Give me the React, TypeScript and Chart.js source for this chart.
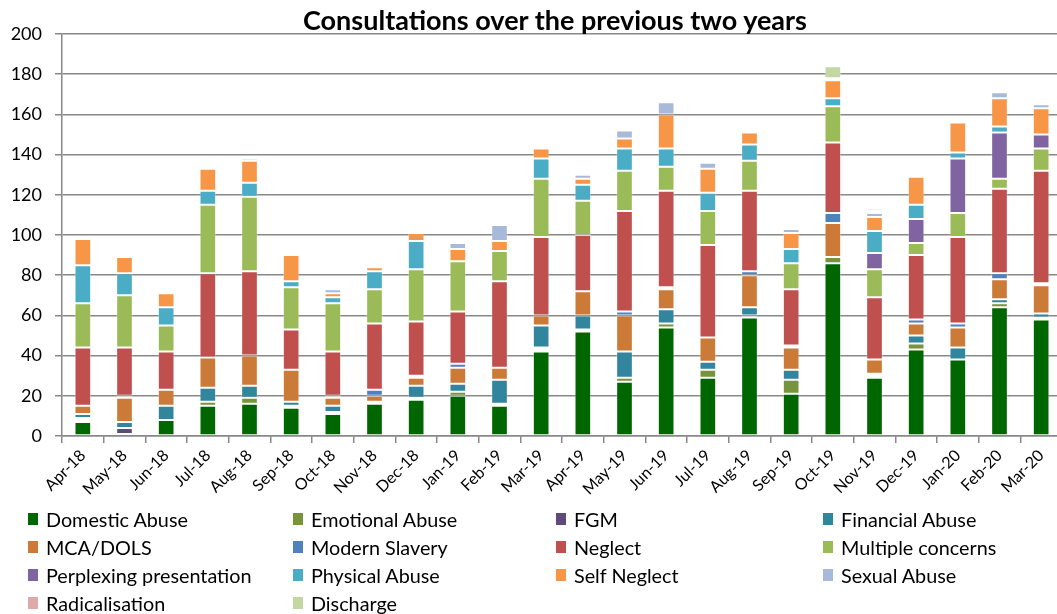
import React, { useEffect, useRef } from "react";
import { Chart, registerables } from "chart.js";

Chart.register(...registerables);

const months = ["Apr-18","May-18","Jun-18","Jul-18","Aug-18","Sep-18","Oct-18","Nov-18","Dec-18","Jan-19","Feb-19","Mar-19","Apr-19","May-19","Jun-19","Jul-19","Aug-19","Sep-19","Oct-19","Nov-19","Dec-19","Jan-20","Feb-20","Mar-20"];

const domesticAbuse =   [7,1,8,15,16,14,11,16,18,20,15,42,52,27,54,29,59,21,86,29,43,38,64,58];
const emotionalAbuse =  [1,0,0,2,3,1,1,0,1,2,1,1,1,2,2,4,1,7,3,1,3,0,2,0];
const fgm =             [1,3,0,0,0,0,0,0,0,0,0,1,0,0,0,0,0,0,0,0,0,0,0,1];
const financialAbuse =  [2,3,7,7,6,2,3,1,6,4,12,11,7,13,7,4,4,5,0,1,4,6,2,2];
const mcaDols =         [4,12,8,15,15,16,4,3,4,8,6,5,12,18,10,12,16,11,17,7,6,10,10,14];
const modernSlavery =   [0,1,0,0,0,0,1,3,1,2,0,0,0,2,1,0,2,1,5,0,2,2,3,1];
const neglect =         [29,24,19,42,42,20,22,33,27,26,43,39,28,50,48,46,40,28,35,31,32,43,42,56];
const multipleConcerns =[22,26,13,34,37,21,24,17,26,25,15,29,17,20,12,17,15,13,18,14,6,12,5,11];
const perplexing =      [0,0,0,0,0,0,0,0,0,0,0,0,0,0,0,0,0,0,0,8,12,27,23,7];
const physicalAbuse =   [19,11,9,7,7,3,3,9,14,0,0,10,8,11,9,9,8,7,4,11,7,3,3,0];
const selfNeglect =     [13,8,7,11,11,13,2,2,4,6,5,5,3,5,17,12,6,8,9,7,14,15,14,13];
const sexualAbuse =     [1,1,1,0,1,0,2,0,1,3,8,0,2,4,6,3,1,2,0,2,0,0,3,2];
const radicalisation =  [0,0,0,1,1,0,0,0,0,0,0,0,0,0,0,1,0,0,1,1,1,0,0,0];
const discharge =       [0,0,0,0,0,0,0,0,0,0,0,0,0,0,0,0,0,0,6,1,0,0,1,0];

const yTicks = [0,20,40,60,80,100,120,140,160,180,200];

const series = [
  { label: "Domestic Abuse", data: domesticAbuse, color: "#006600" },
  { label: "Emotional Abuse", data: emotionalAbuse, color: "#77933C" },
  { label: "FGM", data: fgm, color: "#604A7B" },
  { label: "Financial Abuse", data: financialAbuse, color: "#31859C" },
  { label: "MCA/DOLS", data: mcaDols, color: "#CB7A37" },
  { label: "Modern Slavery", data: modernSlavery, color: "#4F81BD" },
  { label: "Neglect", data: neglect, color: "#C0504D" },
  { label: "Multiple concerns", data: multipleConcerns, color: "#9BBB59" },
  { label: "Perplexing presentation", data: perplexing, color: "#8064A2" },
  { label: "Physical Abuse", data: physicalAbuse, color: "#4BACC6" },
  { label: "Self Neglect", data: selfNeglect, color: "#F79646" },
  { label: "Sexual Abuse", data: sexualAbuse, color: "#A9B9D9" },
  { label: "Radicalisation", data: radicalisation, color: "#DDA9A9" },
  { label: "Discharge", data: discharge, color: "#C4D7A3" },
];

const legendCols = [28, 293, 556, 823];
const legendRows = [519, 547, 575, 603];

export default function App() {
  const ref = useRef<HTMLCanvasElement | null>(null);

  useEffect(() => {
    document.body.style.margin = "0";
    document.body.style.overflow = "hidden";
    const ctx = ref.current!.getContext("2d")!;
    const chart = new Chart(ctx, {
      type: "bar",
      data: {
        labels: months,
        datasets: series.map((s) => ({
          label: s.label,
          data: s.data.map((v) => (v === 0 ? null : v)),
          backgroundColor: s.color,
          borderColor: "rgba(255,255,255,0.35)",
          borderWidth: 1,
          borderSkipped: false,
          barPercentage: 0.5,
          categoryPercentage: 0.8,
        })),
      },
      options: {
        responsive: false,
        animation: false,
        layout: { padding: { left: 0, right: 0, top: 34, bottom: 0 } },
        plugins: { legend: { display: false }, title: { display: false }, tooltip: { enabled: false } },
        font: { family: "Lato" },
        scales: {
          x: {
            stacked: true,
            grid: { drawOnChartArea: false, drawTicks: true, tickLength: 7, color: "#888", lineWidth: 1.5, offset: true },
            border: { display: true, color: "#888", width: 1.5 },
            ticks: { minRotation: 45, maxRotation: 45, autoSkip: false, color: "#000", padding: 3, font: { family: "Lato", size: 16 } },
            afterFit: (s: any) => { s.height = 178; },
          },
          y: {
            stacked: true,
            min: 0,
            max: 200,
            afterBuildTicks: (s: any) => { s.ticks = yTicks.map((v) => ({ value: v })); },
            grid: { color: "#888", lineWidth: 1.5, tickLength: 7, drawTicks: true },
            border: { display: true, color: "#888", width: 1.5 },
            ticks: { color: "#000", padding: 13, font: { family: "Lato", size: 18 } },
            afterFit: (s: any) => { s.width = 62; },
          },
        },
      } as any,
    });
    return () => chart.destroy();
  }, []);

  return (
    <div style={{ position: "fixed", left: 0, top: 0, width: 1057, height: 614, overflow: "hidden", background: "#fff", fontFamily: "Lato" }}>
      <canvas ref={ref} width={1062} height={614} style={{ position: "absolute", left: 0, top: 0, display: "block" }} />
      <div style={{ position: "absolute", left: 0, width: 1110, top: 5, textAlign: "center", fontWeight: 700, fontSize: 27, lineHeight: "30px", color: "#000" }}>
        Consultations over the previous two years
      </div>
      {series.map((s, i) => {
        const c = i % 4;
        const r = Math.floor(i / 4);
        return (
          <div key={s.label} style={{ position: "absolute", left: legendCols[c], top: legendRows[r] - 12, height: 24, display: "flex", alignItems: "center", fontSize: 19.8, color: "#000", whiteSpace: "nowrap" }}>
            <span style={{ display: "inline-block", width: 10, height: 12, background: s.color, marginRight: 8 }} />
            <span>{s.label}</span>
          </div>
        );
      })}
    </div>
  );
}
